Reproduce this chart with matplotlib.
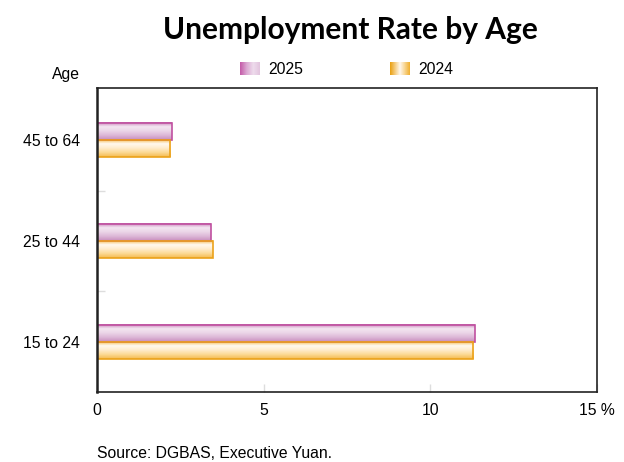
import numpy as np
import matplotlib
matplotlib.use('Agg')
import matplotlib.pyplot as plt
from matplotlib.colors import LinearSegmentedColormap

# data
ages = ['15 to 24', '25 to 44', '45 to 64']
rate_2025 = [11.34, 3.42, 2.24]
rate_2024 = [11.29, 3.48, 2.20]
xticks = [0, 5, 10, 15]
xtick_labels = ['0', '5', '10', '15 %']

plt.rcParams['font.family'] = ['Liberation Sans', 'DejaVu Sans']
fs = 11.3

pink_cmap = LinearSegmentedColormap.from_list(
    'pink', ['#c77fb8', '#f3e6f1', '#ead4e7', '#dcb6d6', '#c78cbd'])
orange_cmap = LinearSegmentedColormap.from_list(
    'orange', ['#f3b64a', '#fff9f0', '#ffeccc', '#fcd994', '#f4bb50'])
pink_edge = '#c050a0'
orange_edge = '#eba21a'

fig = plt.figure(figsize=(6.24, 4.62), dpi=100)
ax = fig.add_axes([97 / 624, 1 - 392 / 462, 500 / 624, 304 / 462])

bar_h = 0.17
grad = np.linspace(0, 1, 64).reshape(-1, 1)
ypos = np.arange(len(ages))

for i in range(len(ages)):
    # 2025 above, 2024 below
    y25 = ypos[i] + bar_h / 2
    y24 = ypos[i] - bar_h / 2
    ax.imshow(grad, cmap=pink_cmap, aspect='auto', origin='upper',
              extent=[0, rate_2025[i], y25 - bar_h / 2, y25 + bar_h / 2], zorder=2)
    ax.barh(y25, rate_2025[i], height=bar_h, facecolor='none',
            edgecolor=pink_edge, linewidth=1.2, zorder=3)
    ax.imshow(grad, cmap=orange_cmap, aspect='auto', origin='upper',
              extent=[0, rate_2024[i], y24 - bar_h / 2, y24 + bar_h / 2], zorder=2)
    ax.barh(y24, rate_2024[i], height=bar_h, facecolor='none',
            edgecolor=orange_edge, linewidth=1.2, zorder=3)

ax.set_xlim(0, 15)
ax.set_ylim(-0.5, 2.52)
ax.set_xticks(xticks)
ax.set_xticklabels(xtick_labels, fontsize=fs)
ax.set_yticks(ypos)
ax.set_yticklabels(ages, fontsize=fs)
ax.set_yticks([0.5, 1.5], minor=True)
ax.tick_params(axis='y', which='major', length=0, pad=12)
ax.tick_params(axis='y', which='minor', length=6, direction='in', color='#dddddd', width=1)
ax.tick_params(axis='x', which='major', length=6, direction='in', color='#dddddd', width=1, pad=8)
for s in ax.spines.values():
    s.set_linewidth(1.2)
    s.set_color('#222222')
ax.spines['left'].set_linewidth(1.8)
ax.spines['left'].set_zorder(4)

# title and labels
fig.text(350 / 624, 1 - 30 / 462, 'Unemployment Rate by Age', ha='center', va='center',
         fontsize=21.5, fontweight='bold', family=['Lato', 'DejaVu Sans'])
fig.text(66 / 624, 1 - 75 / 462, 'Age', ha='center', va='center', fontsize=fs)
fig.text(97 / 624, 1 - 454 / 462, 'Source: DGBAS, Executive Yuan.', ha='left',
         va='center', fontsize=fs)

# legend with gradient swatches
hgrad = np.linspace(0, 1, 64).reshape(1, -1)
leg_pink = LinearSegmentedColormap.from_list('lp', ['#c45aa8', '#dba8d2', '#eedcec', '#e2c4de'])
leg_orange = LinearSegmentedColormap.from_list('lo', ['#eaa010', '#fff8ee', '#f0b030'])
for x0, cmap, lab in [(240, leg_pink, '2025'), (390, leg_orange, '2024')]:
    lax = fig.add_axes([x0 / 624, 1 - 75 / 462, 20 / 624, 13 / 462])
    lax.imshow(hgrad, cmap=cmap, aspect='auto')
    lax.axis('off')
    fig.text((x0 + 28) / 624, 1 - 69 / 462, lab, ha='left', va='center', fontsize=fs)

plt.savefig('out.png', dpi=100)
